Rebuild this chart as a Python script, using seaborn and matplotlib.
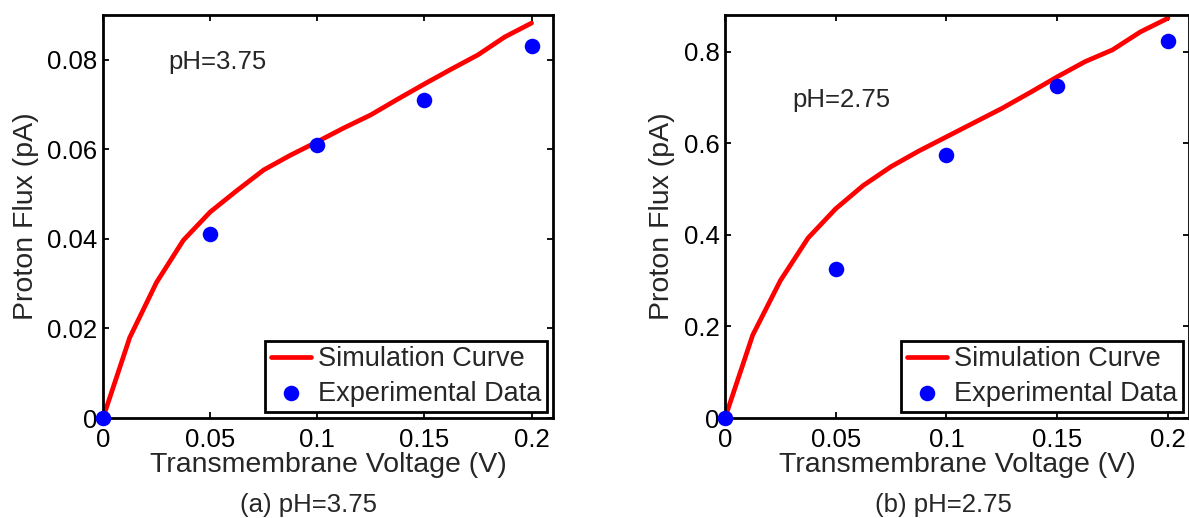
import numpy as np
import pandas as pd
import matplotlib
matplotlib.use("Agg")
import matplotlib.pyplot as plt
import seaborn as sns
from matplotlib.ticker import FuncFormatter

# ---- data ----
sim_voltage = [0, 0.0125, 0.025, 0.0375, 0.05, 0.0625, 0.075, 0.0875, 0.1,
               0.1125, 0.125, 0.1375, 0.15, 0.1625, 0.175, 0.1875, 0.2]
sim_flux_a = [0, 0.018, 0.0303, 0.0397, 0.046, 0.0508, 0.0554, 0.0587, 0.0617,
              0.0648, 0.0677, 0.0712, 0.0746, 0.0779, 0.0811, 0.0851, 0.0882]
sim_flux_b = [0, 0.181, 0.300, 0.393, 0.457, 0.508, 0.549, 0.583, 0.614,
              0.645, 0.676, 0.710, 0.745, 0.778, 0.804, 0.843, 0.873]
exp_voltage = [0, 0.05, 0.1, 0.15, 0.2]
exp_flux_a = [0, 0.041, 0.061, 0.071, 0.083]
exp_flux_b = [0, 0.325, 0.575, 0.724, 0.824]

panel_labels = ["pH=3.75", "pH=2.75"]
captions = ["(a) pH=3.75", "(b) pH=2.75"]
yticks_a = [0, 0.02, 0.04, 0.06, 0.08]
yticks_b = [0, 0.2, 0.4, 0.6, 0.8]
xticks = [0, 0.05, 0.1, 0.15, 0.2]

sns.set_style("ticks")
plt.rcParams['font.family'] = ['Liberation Sans', 'DejaVu Sans']

W, H = 1189, 518
fig = plt.figure(figsize=(W / 100, H / 100), dpi=100)

def px_axes(l, t, r, b):
    return fig.add_axes([l / W, 1 - b / H, (r - l) / W, (b - t) / H])

ax_a = px_axes(103, 15, 553, 418)
ax_b = px_axes(725, 15, 1189, 418)

fmt = FuncFormatter(lambda v, p: ("%g" % v))

configs = [
    (ax_a, sim_flux_a, exp_flux_a, (0, 0.09), yticks_a, panel_labels[0], 0.0796, 0.21, 450),
    (ax_b, sim_flux_b, exp_flux_b, (0, 0.88), yticks_b, panel_labels[1], 0.694, 0.2095, 464),
]

for ax, sim, exp, ylim, yt, lab, laby, xmax, wpx in configs:
    sim_df = pd.DataFrame({"V": sim_voltage, "F": sim})
    exp_df = pd.DataFrame({"V": exp_voltage, "F": exp})
    sns.lineplot(data=sim_df, x="V", y="F", ax=ax, color="#ff0000", lw=3.4,
                 label="Simulation Curve", zorder=2)
    sns.scatterplot(data=exp_df, x="V", y="F", ax=ax, color="#0000ff", s=125,
                    edgecolor="#0000ff", linewidth=0, label="Experimental Data",
                    zorder=3, clip_on=False)
    ax.set_xlim(0, xmax)
    ax.set_ylim(*ylim)
    ax.set_xticks(xticks)
    ax.set_yticks(yt)
    ax.xaxis.set_major_formatter(fmt)
    ax.yaxis.set_major_formatter(fmt)
    ax.tick_params(direction="in", length=4, width=1.3, top=True, right=True,
                   labelsize=18.5, colors="black")
    ax.tick_params(axis="x", pad=7)
    ax.tick_params(axis="y", pad=4)
    for s in ax.spines.values():
        s.set_visible(True)
        s.set_linewidth(2.0)
        s.set_color("black")
    ax.set_xlabel("Transmembrane Voltage (V)", fontsize=20.5, labelpad=0)
    ax.set_ylabel("Proton Flux (pA)", fontsize=20.5, labelpad=6)
    ax.text(0.0305, laby, lab, fontsize=18.5, ha="left", va="center")
    leg = ax.legend(loc="lower right", bbox_to_anchor=(1 - 6 / wpx, 6 / 403),
                    borderaxespad=0, fontsize=19.5, frameon=True, fancybox=False,
                    handlelength=1.5, handletextpad=0.25, borderpad=0.2,
                    labelspacing=0.3, markerscale=1.0)
    fr = leg.get_frame()
    fr.set_edgecolor("black")
    fr.set_linewidth(2.0)
    fr.set_alpha(1)
    ax.grid(False)

fig.text(308 / W, 1 - 505 / H, captions[0], fontsize=18.5, ha="center", va="center")
fig.text(943 / W, 1 - 505 / H, captions[1], fontsize=18.5, ha="center", va="center")

fig.savefig("out.png", dpi=100, facecolor="white")
